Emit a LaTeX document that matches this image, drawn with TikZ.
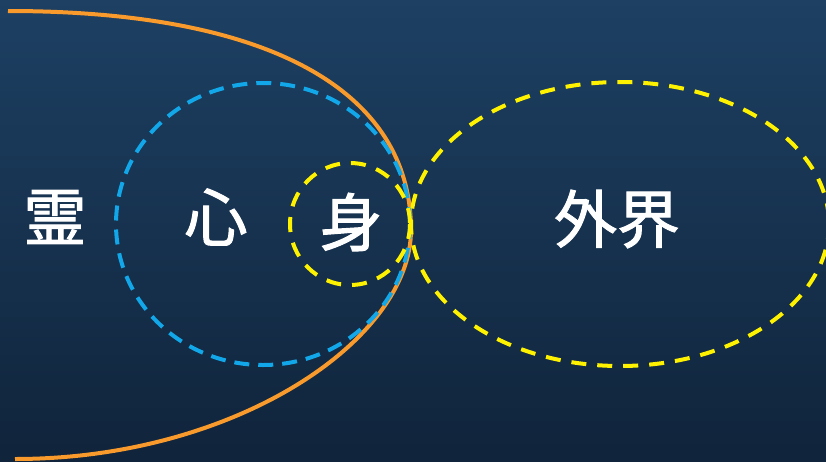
\documentclass[tikz,border=0pt]{standalone}
\usepackage{fontspec}
\newfontfamily\cjk{Noto Sans CJK JP}[FakeBold=1.5]
\definecolor{bgtop}{HTML}{1D4063}
\definecolor{bgbot}{HTML}{10243B}
\definecolor{orangeline}{HTML}{F99A2C}
\definecolor{blueline}{HTML}{12A7E8}
\definecolor{yellowline}{HTML}{FFF200}
\tikzset{
  orangearc/.style={draw=orangeline, line width=4pt},
  bluedash/.style={draw=blueline, line width=4pt, dash pattern=on 15pt off 9pt},
  yellowdash/.style={draw=yellowline, line width=4pt, dash pattern=on 15pt off 11pt},
  label/.style={text=white, font=\cjk\fontsize{63}{70}\selectfont, inner sep=0pt}
}
\begin{document}
\begin{tikzpicture}[x=1pt,y=-1pt]
\shade[top color=bgtop, bottom color=bgbot] (0,0) rectangle (826,461);
\useasboundingbox (0,0) rectangle (826,461);
% orange curve
\draw[orangearc] (8,11) .. controls (268,11) and (411,90) .. (411,230)
  .. controls (411,340) and (235,459) .. (15,459);
% blue dashed circle
\draw[bluedash] (263,224) ellipse[x radius=147, y radius=141];
% small yellow dashed circle
\draw[yellowdash] (350,224) ellipse[x radius=60, y radius=61];
% big yellow dashed ellipse
\draw[yellowdash] (620,224) ellipse[x radius=209, y radius=142];
\node[label] (ling) at (55,217) {霊};
\node[label] (xin) at (216,217) {心};
\node[label] (shen) at (351,222) {身};
\node[label] (waijie) at (617,219) {外界};
\end{tikzpicture}
\end{document}
